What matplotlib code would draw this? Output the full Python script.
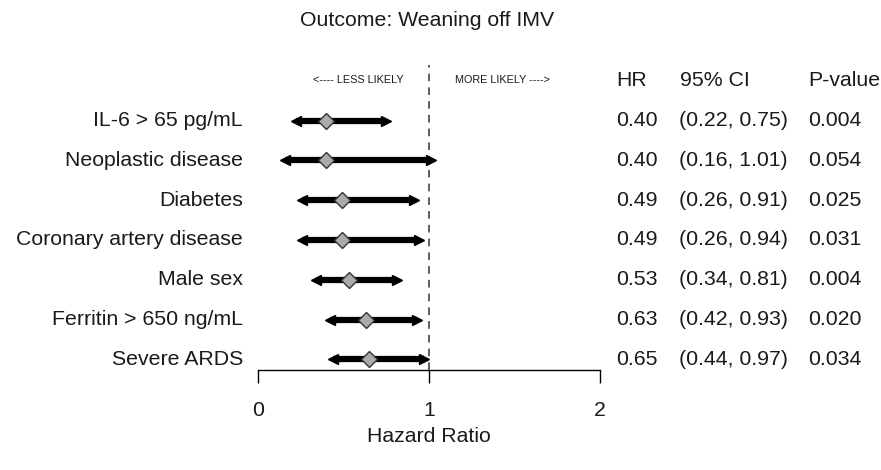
import matplotlib
matplotlib.use("Agg")
import matplotlib.pyplot as plt

plt.rcParams['font.family'] = ['Liberation Sans', 'DejaVu Sans']

labels = ["IL-6 > 65 pg/mL", "Neoplastic disease", "Diabetes",
          "Coronary artery disease", "Male sex", "Ferritin > 650 ng/mL",
          "Severe ARDS"]
hr = [0.40, 0.40, 0.49, 0.49, 0.53, 0.63, 0.65]
ci_low = [0.22, 0.16, 0.26, 0.26, 0.34, 0.42, 0.44]
ci_high = [0.75, 1.01, 0.91, 0.94, 0.81, 0.93, 0.97]
pvals = ["0.004", "0.054", "0.025", "0.031", "0.004", "0.020", "0.034"]
xticks = [0, 1, 2]

W, H = 881, 470
fig = plt.figure(figsize=(W / 100, H / 100), dpi=100)

# axes: x 0..2 maps to px 258..600 ; y spans px 65..370
ax_left, ax_right = 258, 600
ax_top, ax_bot = 65, 370
ax = fig.add_axes([ax_left / W, 1 - ax_bot / H, (ax_right - ax_left) / W, (ax_bot - ax_top) / H])
ax.set_xlim(0, 2)
row0, step = 120.5, 39.8
ax.set_ylim((ax_bot - row0) / step, (ax_top - row0) / step)

txt_color = '#1a1a1a'
for s in ['top', 'right', 'left']:
    ax.spines[s].set_visible(False)
ax.spines['bottom'].set_linewidth(1.0)
ax.set_yticks([])
ax.set_xticks(xticks)
fs = 15.3
ax.set_xticklabels([str(t) for t in xticks], fontsize=fs, color=txt_color)
ax.tick_params(axis='x', direction='out', length=9.5, width=1.0, pad=13)

ax.axvline(1, color='#333333', ls=(0, (5, 4)), lw=1.1, ymin=0, ymax=1, zorder=1)

ys = list(range(len(labels)))
ax.hlines(ys, ci_low, ci_high, color='black', lw=4.5, zorder=2)
ax.plot(ci_low, ys, ls='none', marker='<', ms=7, color='black', zorder=3, clip_on=False)
ax.plot(ci_high, ys, ls='none', marker='>', ms=7, color='black', zorder=3, clip_on=False)
ax.plot(hr, ys, ls='none', marker='D', ms=8, mfc='#aaaaaa', mec='#333333', mew=1.0, zorder=4)

for i, lab in enumerate(labels):
    y = row0 + step * i
    fig.text(243 / W, 1 - y / H, lab, ha='right', va='center', fontsize=fs, color=txt_color)
    fig.text(616 / W, 1 - y / H, f"{hr[i]:.2f}", ha='left', va='center', fontsize=fs, color=txt_color)
    fig.text(679 / W, 1 - y / H, f"({ci_low[i]:.2f}, {ci_high[i]:.2f})", ha='left', va='center', fontsize=fs, color=txt_color)
    fig.text(808 / W, 1 - y / H, pvals[i], ha='left', va='center', fontsize=fs, color=txt_color)

hy = 80
fig.text(616 / W, 1 - hy / H, "HR", ha='left', va='center', fontsize=fs, color=txt_color)
fig.text(680 / W, 1 - hy / H, "95% CI", ha='left', va='center', fontsize=fs, color=txt_color)
fig.text(808 / W, 1 - hy / H, "P-value", ha='left', va='center', fontsize=fs, color=txt_color)

fig.text(358 / W, 1 - 80 / H, "<---- LESS LIKELY", ha='center', va='center', fontsize=7.8, color=txt_color)
fig.text(502 / W, 1 - 80 / H, "MORE LIKELY ---->", ha='center', va='center', fontsize=7.8, color=txt_color)

fig.text(427 / W, 1 - 21 / H, "Outcome: Weaning off IMV", ha='center', va='center', fontsize=fs, color=txt_color)
fig.text(429 / W, 1 - 436 / H, "Hazard Ratio", ha='center', va='center', fontsize=fs, color=txt_color)

fig.savefig("out.png", dpi=100)
